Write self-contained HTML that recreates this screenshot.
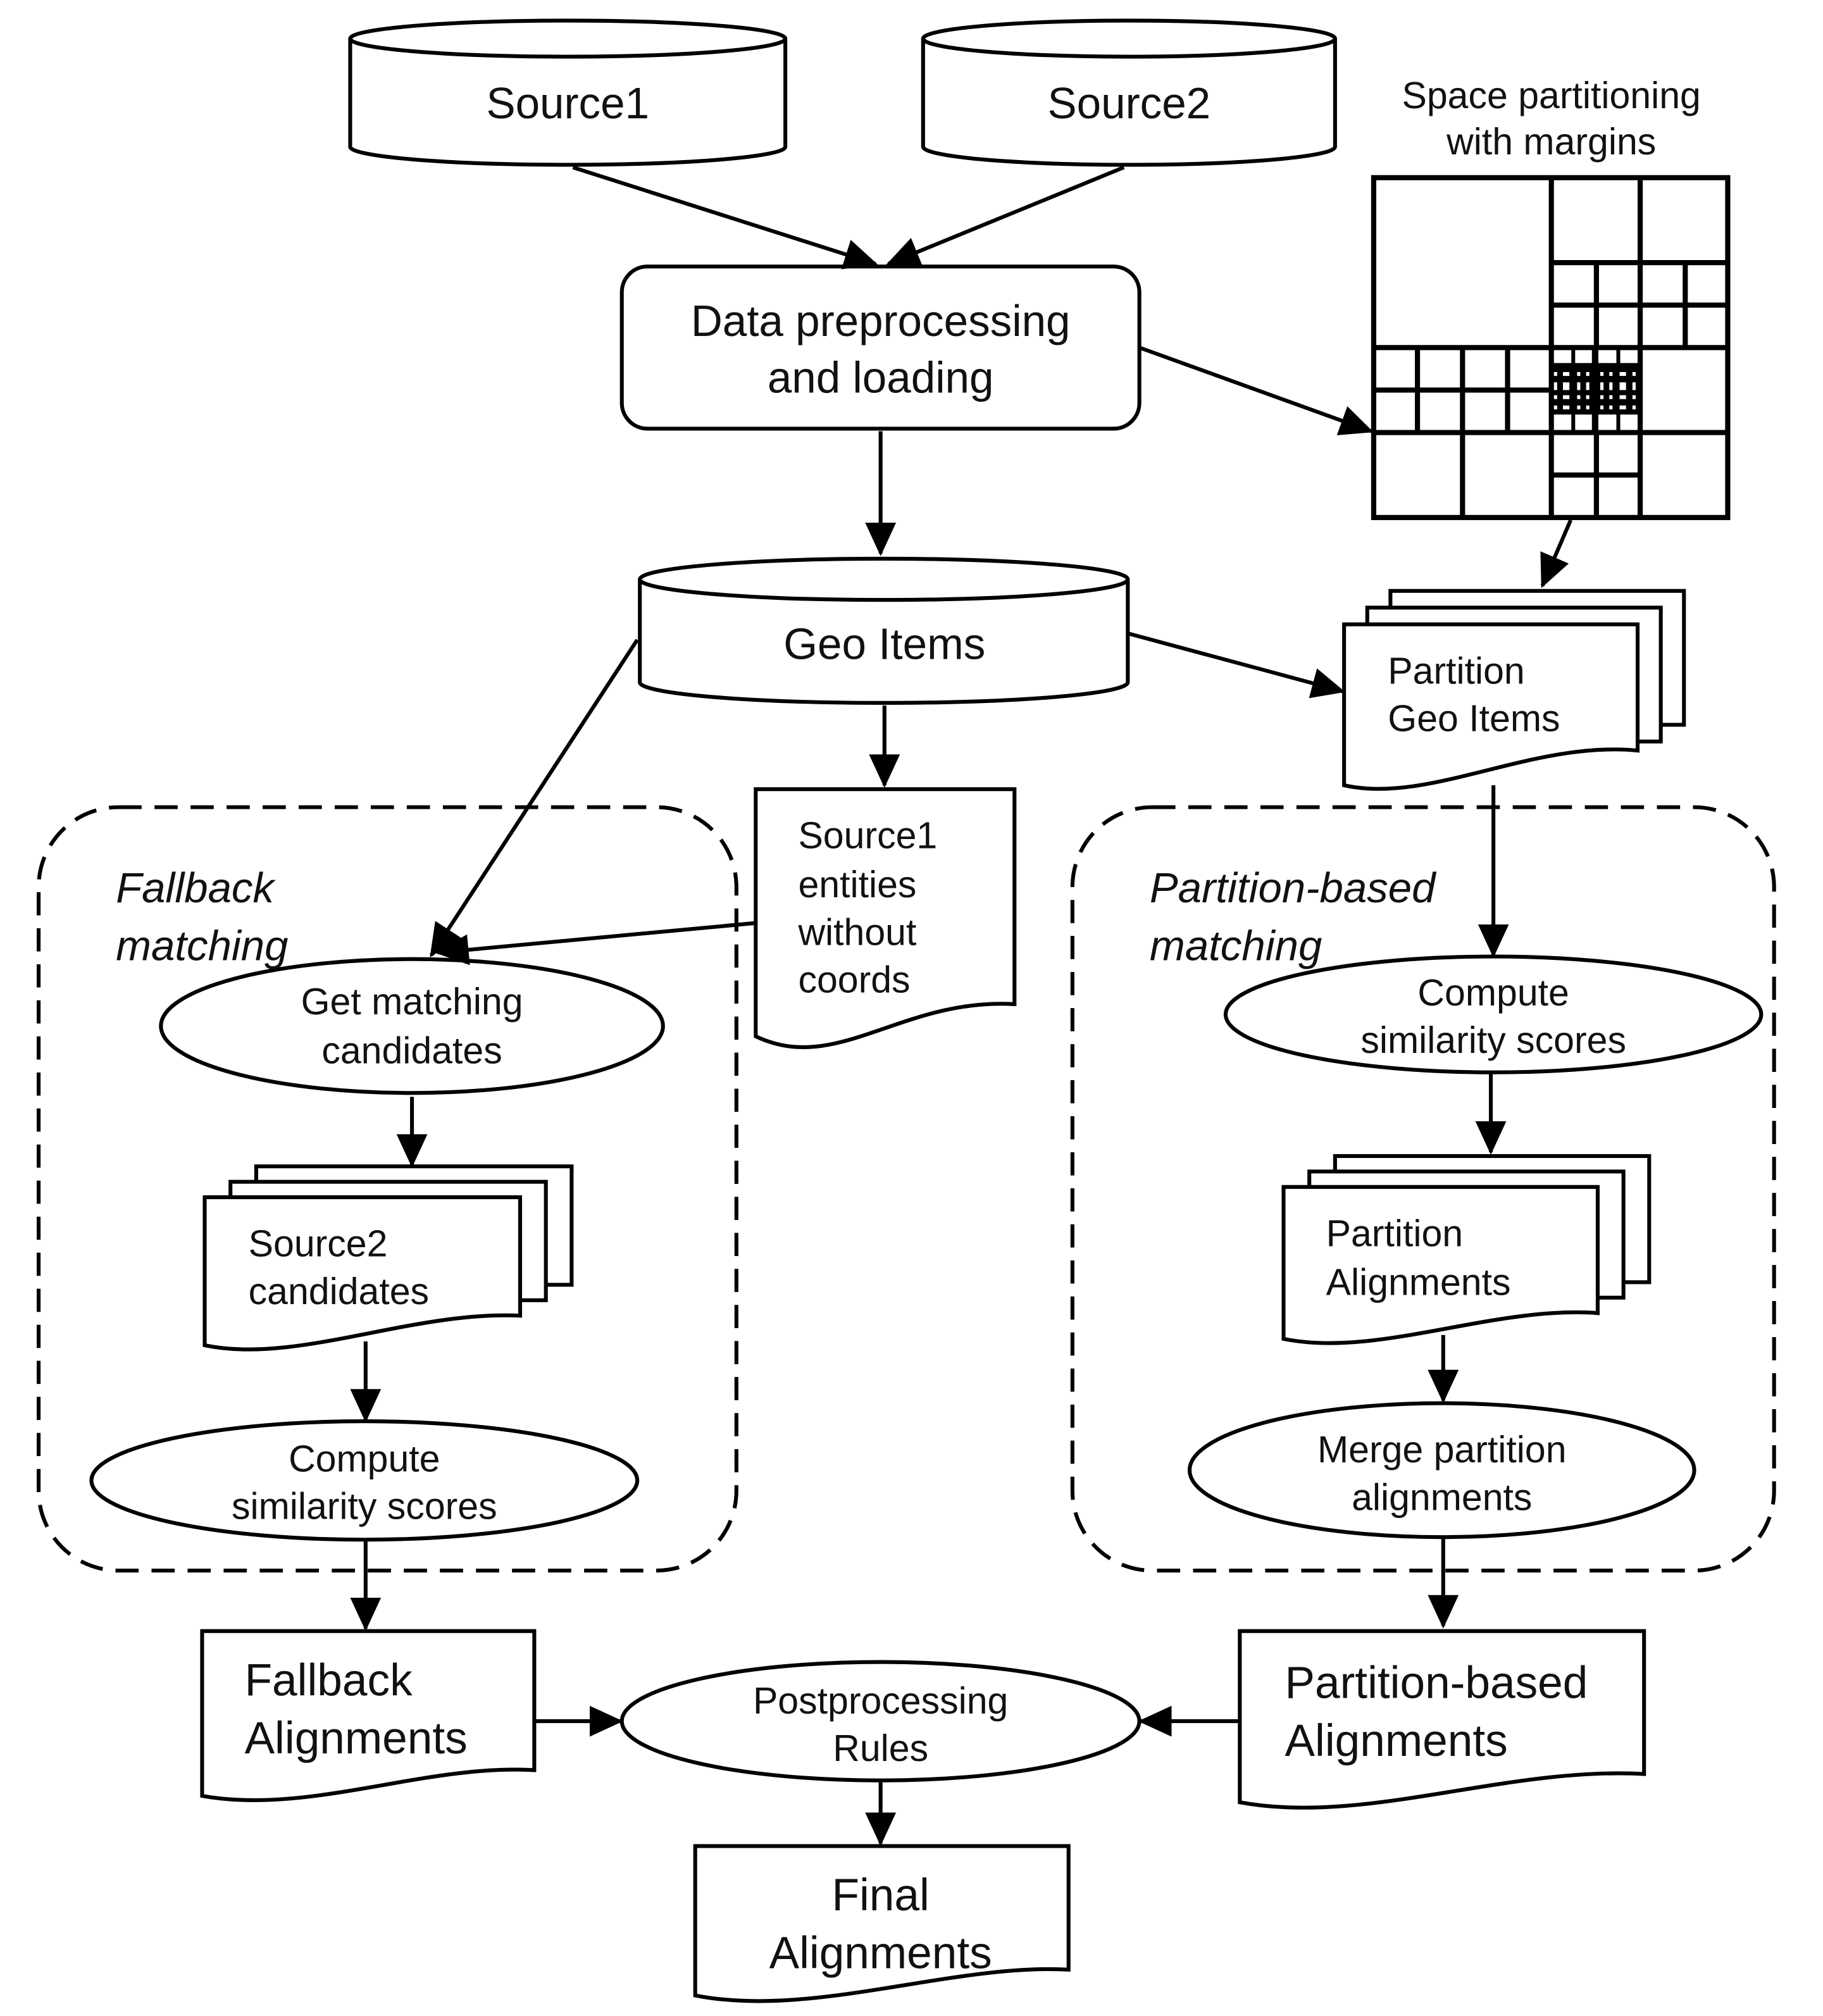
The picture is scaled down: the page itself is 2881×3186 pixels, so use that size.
<!DOCTYPE html>
<html><head><meta charset="utf-8"><style>
html,body{margin:0;padding:0;background:#fff}
svg{display:block}
text{font-family:"Liberation Sans",Arial,sans-serif;fill:#111}
</style></head><body>
<svg width="2881" height="3186" viewBox="0 0 1416 1566" preserveAspectRatio="none" xmlns="http://www.w3.org/2000/svg">
<defs>
<marker id="a" markerUnits="userSpaceOnUse" markerWidth="26" markerHeight="26" viewBox="0 0 26 26" refX="24" refY="13" orient="auto">
<path d="M0,1 L26,13 L0,25 Z" fill="#000"/>
</marker>
</defs>
<g fill="#fff" stroke="#000" stroke-width="3">
<path d="M272,30 V114 A169,14 0 0 0 610,114 V30"/>
<ellipse cx="441" cy="30" rx="169" ry="14"/>
<path d="M717,30 V114 A160,14 0 0 0 1037,114 V30"/>
<ellipse cx="877" cy="30" rx="160" ry="14"/>
<path d="M497,450 V530 A189.5,16 0 0 0 876,530 V450"/>
<ellipse cx="686.5" cy="450" rx="189.5" ry="16"/>
<rect x="483" y="207" width="402" height="126" rx="20"/>
<rect x="30" y="627" width="542" height="593" rx="62" stroke-dasharray="18 10"/>
<rect x="833" y="627" width="545" height="593" rx="62" stroke-dasharray="18 10"/>
<rect x="1080" y="459" width="228" height="104"/>
<rect x="1062" y="472" width="228" height="104"/>
<path d="M1044,485 H1272 V583 C1190,575 1110,625 1044,610 Z"/>
<path d="M587,613 H788 V780 C700,775 650,835 587,805 Z"/>
<rect x="199" y="906" width="245" height="92"/>
<rect x="179" y="918" width="245" height="92"/>
<path d="M159,930 H404 V1022 C320,1018 230,1060 159,1045 Z"/>
<rect x="1037" y="898" width="244" height="98"/>
<rect x="1017" y="910" width="244" height="98"/>
<path d="M997,922 H1241 V1020 C1160,1014 1070,1055 997,1040 Z"/>
<path d="M157,1267 H415 V1375 C330,1370 240,1410 157,1395 Z"/>
<path d="M963,1267 H1277 V1378 C1170,1372 1060,1418 963,1400 Z"/>
<path d="M540,1434 H830 V1530 C740,1525 630,1568 540,1550 Z"/>
<ellipse cx="320" cy="797" rx="195" ry="52"/>
<ellipse cx="283" cy="1150" rx="212" ry="46"/>
<ellipse cx="684" cy="1337" rx="201" ry="46"/>
<ellipse cx="1160" cy="788" rx="208" ry="45"/>
<ellipse cx="1120" cy="1142" rx="196" ry="52"/>
</g>
<!-- grid -->
<g fill="none" stroke="#000" stroke-width="4">
<rect x="1067" y="138" width="275" height="264"/>
<line x1="1067" y1="270" x2="1342" y2="270"/>
<line x1="1205" y1="138" x2="1205" y2="402"/>
<line x1="1274" y1="138" x2="1274" y2="270"/>
<line x1="1205" y1="204" x2="1342" y2="204"/>
<line x1="1205" y1="237" x2="1342" y2="237"/>
<line x1="1240" y1="204" x2="1240" y2="270"/>
<line x1="1309" y1="204" x2="1309" y2="270"/>
<line x1="1067" y1="303" x2="1205" y2="303"/>
<line x1="1067" y1="336" x2="1342" y2="336"/>
<line x1="1101" y1="270" x2="1101" y2="336"/>
<line x1="1136" y1="270" x2="1136" y2="402"/>
<line x1="1171" y1="270" x2="1171" y2="336"/>
<line x1="1274" y1="270" x2="1274" y2="402"/>
<line x1="1240" y1="336" x2="1240" y2="402"/>
<line x1="1205" y1="369" x2="1274" y2="369"/>
<line x1="1222" y1="270" x2="1222" y2="336" stroke-width="3"/>
<line x1="1257" y1="270" x2="1257" y2="336" stroke-width="3"/>
<line x1="1239" y1="270" x2="1239" y2="336" stroke-width="5"/>
</g>
<rect x="1205" y="282" width="69" height="40" fill="#000"/>
<g fill="#fff">
<rect x="1207" y="289" width="2.5" height="3"/><rect x="1214" y="289" width="5" height="3"/><rect x="1225" y="289" width="2.5" height="3"/><rect x="1232" y="289" width="2.5" height="3"/><rect x="1243" y="289" width="2.5" height="3"/><rect x="1250" y="289" width="2.5" height="3"/><rect x="1258" y="289" width="5" height="3"/><rect x="1268" y="289" width="2.5" height="3"/>
<rect x="1207" y="297" width="2.5" height="6"/><rect x="1214" y="297" width="5" height="6"/><rect x="1225" y="297" width="2.5" height="6"/><rect x="1232" y="297" width="2.5" height="6"/><rect x="1243" y="297" width="2.5" height="6"/><rect x="1250" y="297" width="2.5" height="6"/><rect x="1258" y="297" width="5" height="6"/><rect x="1268" y="297" width="2.5" height="6"/>
<rect x="1207" y="307" width="2.5" height="3"/><rect x="1214" y="307" width="5" height="3"/><rect x="1225" y="307" width="2.5" height="3"/><rect x="1232" y="307" width="2.5" height="3"/><rect x="1243" y="307" width="2.5" height="3"/><rect x="1250" y="307" width="2.5" height="3"/><rect x="1258" y="307" width="5" height="3"/><rect x="1268" y="307" width="2.5" height="3"/>
<rect x="1207" y="315" width="2.5" height="3"/><rect x="1214" y="315" width="5" height="3"/><rect x="1225" y="315" width="2.5" height="3"/><rect x="1232" y="315" width="2.5" height="3"/><rect x="1243" y="315" width="2.5" height="3"/><rect x="1250" y="315" width="2.5" height="3"/><rect x="1258" y="315" width="5" height="3"/><rect x="1268" y="315" width="2.5" height="3"/>
</g>
<g stroke="#000" stroke-width="3" fill="none" marker-end="url(#a)">
<line x1="445" y1="130" x2="680" y2="205"/>
<line x1="873" y1="130" x2="690" y2="205"/>
<line x1="885" y1="270" x2="1065" y2="335"/>
<line x1="684" y1="335" x2="684" y2="430"/>
<line x1="876" y1="492" x2="1043" y2="537"/>
<line x1="1220" y1="404" x2="1198" y2="455"/>
<line x1="687" y1="548" x2="687" y2="610"/>
<line x1="495" y1="497" x2="335" y2="742"/>
<line x1="587" y1="717" x2="340" y2="740"/>
<line x1="320" y1="852" x2="320" y2="905"/>
<line x1="284" y1="1042" x2="284" y2="1103"/>
<line x1="284" y1="1197" x2="284" y2="1265"/>
<line x1="415" y1="1337" x2="482" y2="1337"/>
<line x1="963" y1="1337" x2="886" y2="1337"/>
<line x1="684" y1="1384" x2="684" y2="1432"/>
<line x1="1160" y1="610" x2="1160" y2="742"/>
<line x1="1158" y1="834" x2="1158" y2="895"/>
<line x1="1121" y1="1037" x2="1121" y2="1088"/>
<line x1="1121" y1="1195" x2="1121" y2="1263"/>
</g>
<g font-size="34" text-anchor="middle">
<text x="441" y="92">Source1</text>
<text x="877" y="92">Source2</text>
<text x="684" y="261">Data preprocessing</text>
<text x="684" y="305">and loading</text>
<text x="687" y="512">Geo Items</text>
</g>
<g font-size="29" text-anchor="middle">
<text x="1205" y="84">Space partitioning</text>
<text x="1205" y="120">with margins</text>
<text x="320" y="788">Get matching</text>
<text x="320" y="826">candidates</text>
<text x="283" y="1143">Compute</text>
<text x="283" y="1180">similarity scores</text>
<text x="684" y="1331">Postprocessing</text>
<text x="684" y="1368">Rules</text>
<text x="1160" y="781">Compute</text>
<text x="1160" y="818">similarity scores</text>
<text x="1120" y="1136">Merge partition</text>
<text x="1120" y="1173">alignments</text>
</g>
<g font-size="29">
<text x="1078" y="531">Partition</text>
<text x="1078" y="568">Geo Items</text>
<text x="620" y="659">Source1</text>
<text x="620" y="697">entities</text>
<text x="620" y="734">without</text>
<text x="620" y="771">coords</text>
<text x="193" y="976">Source2</text>
<text x="193" y="1013">candidates</text>
<text x="1030" y="968">Partition</text>
<text x="1030" y="1006">Alignments</text>
</g>
<g font-size="33" font-style="italic">
<text x="90" y="701">Fallback</text>
<text x="90" y="746">matching</text>
<text x="893" y="701">Partition-based</text>
<text x="893" y="746">matching</text>
</g>
<g font-size="35">
<text x="190" y="1317">Fallback</text>
<text x="190" y="1362">Alignments</text>
<text x="998" y="1319">Partition-based</text>
<text x="998" y="1364">Alignments</text>
<text x="684" y="1484" text-anchor="middle">Final</text>
<text x="684" y="1529" text-anchor="middle">Alignments</text>
</g>
</svg>
</body></html>
